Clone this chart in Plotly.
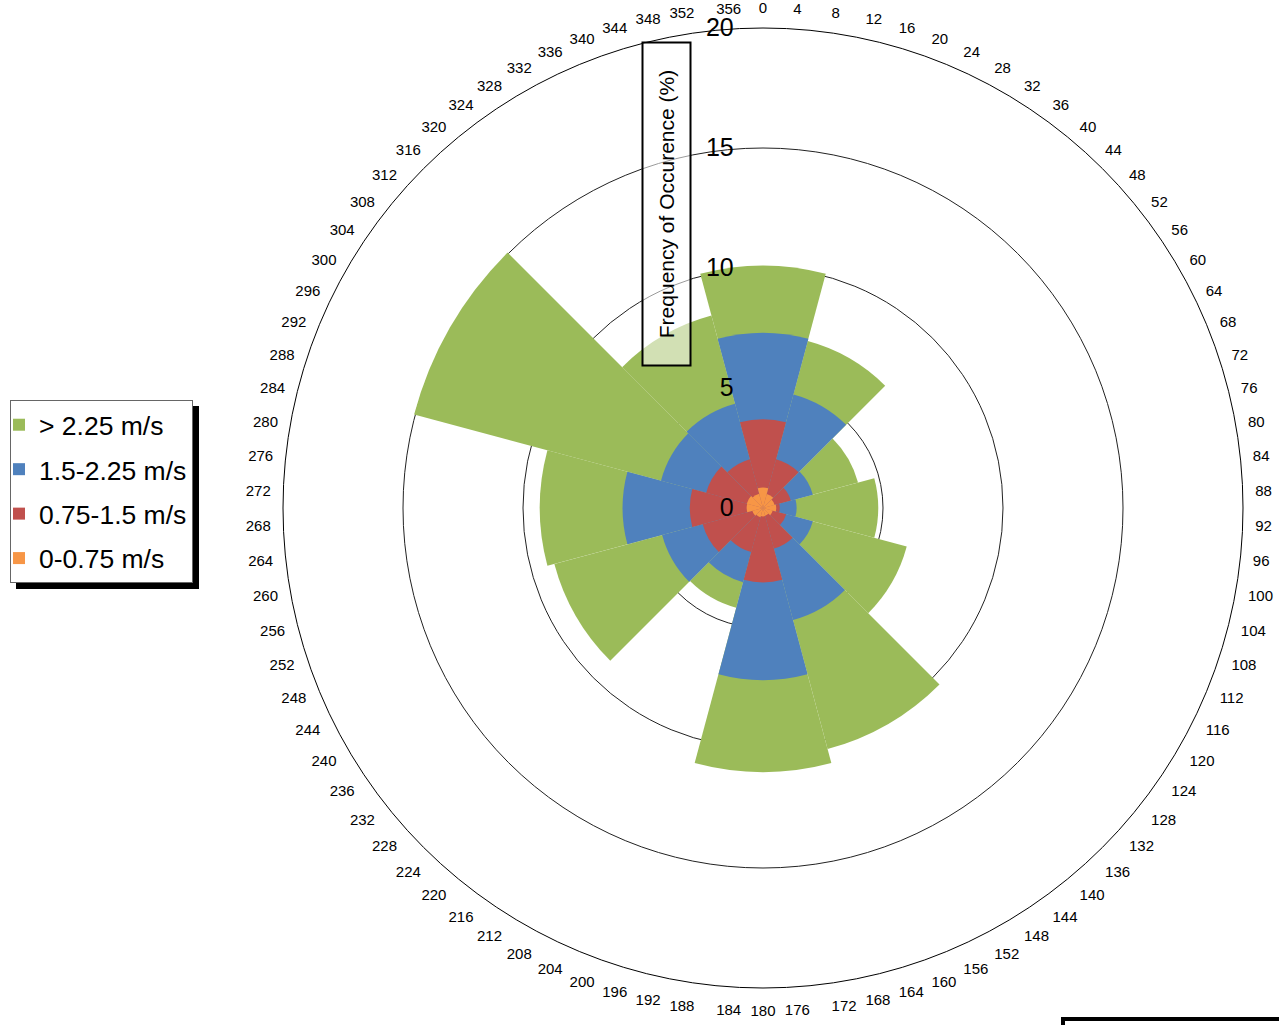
import plotly.graph_objects as go

W, H = 1279, 1025

# direction bins (degrees, clockwise from north)
directions = [0, 30, 60, 90, 120, 150, 180, 210, 240, 270, 300, 330]

# cumulative frequency of occurrence (%) per speed class
freq_gt_2_25 = [10.1, 7.2, 4.1, 4.8, 6.2, 10.4, 11.0, 4.3, 9.0, 9.3, 15.05, 8.3]
freq_1_5_2_25 = [7.3, 4.9, 2.15, 1.4, 2.15, 4.83, 7.17, 3.2, 4.35, 5.85, 4.4, 4.5]
freq_0_75_1_5 = [3.7, 2.1, 1.2, 0.7, 1.0, 1.75, 3.1, 1.9, 2.6, 3.05, 2.45, 2.1]
freq_0_0_75 = [0.85, 0.6, 0.5, 0.55, 0.42, 0.33, 0.35, 0.4, 0.46, 0.68, 0.7, 0.62]

series_names = ["> 2.25 m/s", "1.5-2.25 m/s", "0.75-1.5 m/s", "0-0.75 m/s"]
series_colors = ["#9BBB59", "#4F81BD", "#C0504D", "#F79646"]
series_values = [freq_gt_2_25, freq_1_5_2_25, freq_0_75_1_5, freq_0_0_75]

angular_ticks = list(range(0, 360, 4))
radial_ticks = [0, 5, 10, 15, 20]

FONT = "Arial, 'Liberation Sans', sans-serif"

fig = go.Figure()
for i, (name, color, vals) in enumerate(zip(series_names, series_colors, series_values)):
    fig.add_trace(go.Barpolar(
        r=vals, theta=directions, width=[30] * len(directions),
        name=name, legendgroup=f"g{i}",
        marker=dict(color=color, line=dict(width=0)),
        opacity=1,
    ))

# centre (763,508) radius 480 px
cx, cy, R = 763, 508, 480
fig.update_layout(
    width=W, height=H, autosize=False,
    margin=dict(l=0, r=0, t=0, b=0),
    paper_bgcolor="white",
    font=dict(family=FONT, color="black"),
    polar=dict(
        domain=dict(x=[(cx - R) / W, (cx + R) / W], y=[(H - cy - R) / H, (H - cy + R) / H]),
        bgcolor="white",
        barmode="overlay",
        angularaxis=dict(
            direction="clockwise", rotation=90,
            tickmode="array", tickvals=angular_ticks,
            ticktext=[str(v) for v in angular_ticks],
            showgrid=False, showline=True, linecolor="black", linewidth=1,
            ticks="outside", ticklen=9, tickcolor="rgba(0,0,0,0)",
            tickfont=dict(size=15, family=FONT, color="black"),
        ),
        radialaxis=dict(
            range=[0, 20], tickmode="array", tickvals=radial_ticks,
            angle=90, tickangle=90, showline=False, showgrid=True,
            gridcolor="#222222", gridwidth=1,
            ticks="outside", ticklen=20, tickcolor="rgba(0,0,0,0)",
            tickfont=dict(size=25, family=FONT, color="black"),
            side="counterclockwise", layer="above traces",
        ),
    ),
    legend=dict(
        x=10 / W, y=1 - 400 / H, xanchor="left", yanchor="top",
        bgcolor="white", bordercolor="#666666", borderwidth=1,
        font=dict(size=26.5, family=FONT, color="black"),
        tracegroupgap=7, traceorder="grouped", indentation=-12,
    ),
    showlegend=True,
)

# axis title box
fig.add_annotation(
    text="Frequency of Occurence (%)", textangle=-90,
    x=667 / W, y=1 - 204.5 / H, xref="paper", yref="paper",
    xanchor="center", yanchor="middle", showarrow=False,
    width=321, height=46, borderpad=0, borderwidth=2, bordercolor="black",
    bgcolor="rgba(255,255,255,0.55)",
    font=dict(size=21, family=FONT, color="black"),
)

# legend drop shadow
fig.add_shape(type="rect", xref="paper", yref="paper",
              x0=16 / W, x1=199 / W, y0=1 - 589 / H, y1=1 - 406 / H,
              fillcolor="black", line=dict(width=0), layer="above")
# partial box at bottom right
fig.add_shape(type="rect", xref="paper", yref="paper",
              x0=1063 / W, x1=1.05, y0=-0.05, y1=1 - 1019 / H,
              fillcolor="white", line=dict(width=4, color="black"), layer="above")

fig.write_html("out.html", config={"displayModeBar": False},
               post_script="document.body.style.margin='0';")
